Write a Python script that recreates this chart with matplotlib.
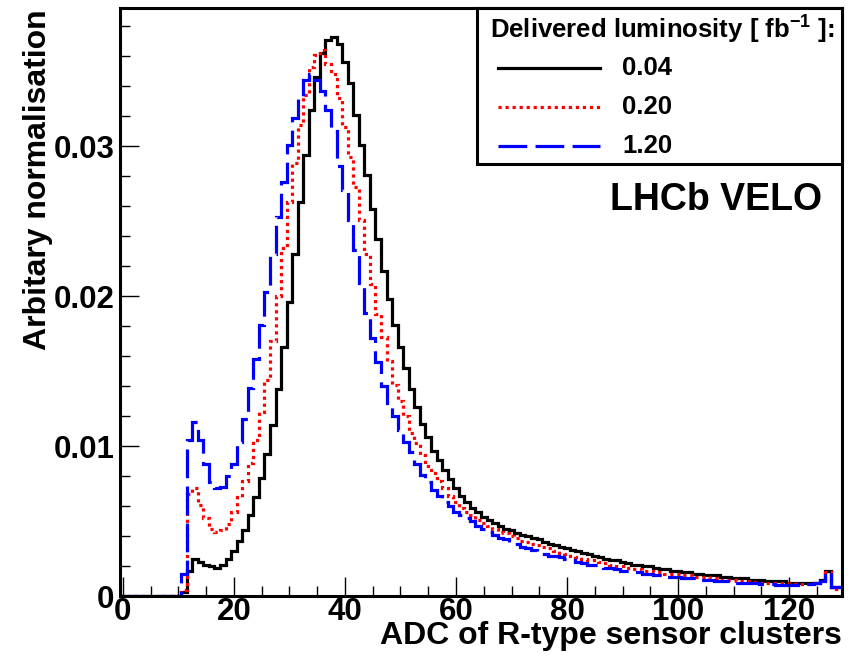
import numpy as np
import matplotlib
matplotlib.use("Agg")
import matplotlib.pyplot as plt
from matplotlib.lines import Line2D
from matplotlib.patches import Rectangle

plt.rcParams['font.family'] = ['Liberation Sans', 'DejaVu Sans']
plt.rcParams['font.weight'] = 'bold'
plt.rcParams['mathtext.fontset'] = 'custom'
plt.rcParams['mathtext.rm'] = 'Liberation Sans:bold'
plt.rcParams['mathtext.default'] = 'rm'

# ADC bins, one per integer value 0..129
adc_edges = np.arange(-0.5, 130.0, 1.0)

# 0.04 fb-1
lumi_004 = [
    0, 0, 0, 0, 0, 0, 0, 0, 0, 0, 0,
    0.0003, 0.0017, 0.0025, 0.0023, 0.0021, 0.0020, 0.0019, 0.0021, 0.0025, 0.0030,
    0.0037, 0.0044, 0.0054, 0.0066, 0.0079, 0.0095, 0.0114, 0.0138, 0.0166, 0.0196,
    0.0228, 0.0263, 0.0294, 0.0324, 0.0346, 0.0362, 0.0371, 0.0373, 0.0368, 0.0356,
    0.0342, 0.0321, 0.0301, 0.0281, 0.0258, 0.0238, 0.0217, 0.0198, 0.0181, 0.0166,
    0.0152, 0.0138, 0.0126, 0.0115, 0.0106, 0.0097, 0.0091, 0.0084, 0.0078, 0.0072,
    0.0067, 0.0063, 0.0059, 0.0056, 0.0053, 0.0051, 0.0049, 0.0047, 0.0045, 0.0044,
    0.0042, 0.0041, 0.0040, 0.0039, 0.0038, 0.0036, 0.0035, 0.0034, 0.0033, 0.0032,
    0.0031, 0.0030, 0.0029, 0.0028, 0.0027, 0.0026, 0.0025, 0.0024, 0.0024, 0.0023,
    0.0022, 0.0021, 0.0021, 0.0020, 0.0020, 0.0019, 0.0018, 0.0018, 0.0017, 0.0017,
    0.0016, 0.0016, 0.0015, 0.0015, 0.0014, 0.0014, 0.0014, 0.0013, 0.0013, 0.0012,
    0.0012, 0.0012, 0.0011, 0.0011, 0.0011, 0.0010, 0.0010, 0.0010, 0.0010, 0.0009,
    0.0009, 0.0009, 0.0009, 0.0009, 0.0009, 0.0011, 0.0017, 0.0006, 0.0006,
]

# 0.20 fb-1
lumi_020 = [
    0, 0, 0, 0, 0, 0, 0, 0, 0, 0, 0,
    0.0004, 0.0068, 0.0072, 0.0061, 0.0052, 0.0045, 0.0043, 0.0044, 0.0048, 0.0056,
    0.0066, 0.0077, 0.0089, 0.0104, 0.0123, 0.0144, 0.0170, 0.0200, 0.0232, 0.0263,
    0.0289, 0.0314, 0.0334, 0.0353, 0.0361, 0.0364, 0.0355, 0.0348, 0.0332, 0.0313,
    0.0293, 0.0273, 0.0251, 0.0228, 0.0208, 0.0188, 0.0173, 0.0157, 0.0141, 0.0130,
    0.0120, 0.0109, 0.0102, 0.0094, 0.0087, 0.0082, 0.0077, 0.0072, 0.0067, 0.0063,
    0.0059, 0.0056, 0.0054, 0.0051, 0.0049, 0.0047, 0.0045, 0.0043, 0.0042, 0.0040,
    0.0039, 0.0037, 0.0036, 0.0035, 0.0034, 0.0033, 0.0032, 0.0030, 0.0029, 0.0028,
    0.0027, 0.0026, 0.0025, 0.0024, 0.0024, 0.0023, 0.0022, 0.0021, 0.0020, 0.0020,
    0.0019, 0.0018, 0.0018, 0.0017, 0.0017, 0.0016, 0.0016, 0.0015, 0.0015, 0.0015,
    0.0014, 0.0014, 0.0013, 0.0013, 0.0013, 0.0012, 0.0012, 0.0011, 0.0011, 0.0011,
    0.0010, 0.0010, 0.0010, 0.00095, 0.0009, 0.0009, 0.0009, 0.00085, 0.00085, 0.00085,
    0.0008, 0.0008, 0.0008, 0.0008, 0.0009, 0.0010, 0.0016, 0.0006, 0.0005,
]

# 1.20 fb-1
lumi_120 = [
    0, 0, 0, 0, 0, 0, 0, 0, 0, 0, 0,
    0.0015, 0.0104, 0.0116, 0.0104, 0.0088, 0.0076, 0.0072, 0.0073, 0.0080, 0.0088,
    0.0103, 0.0118, 0.0139, 0.0158, 0.0181, 0.0203, 0.0228, 0.0253, 0.0276, 0.0301,
    0.0319, 0.0332, 0.0344, 0.0348, 0.0344, 0.0337, 0.0324, 0.0310, 0.0287, 0.0271,
    0.0251, 0.0231, 0.0209, 0.0189, 0.0172, 0.0156, 0.0140, 0.0129, 0.0120, 0.0111,
    0.0103, 0.0096, 0.0088, 0.0081, 0.0076, 0.0071, 0.0067, 0.0063, 0.0060, 0.0056,
    0.0054, 0.0052, 0.0050, 0.0047, 0.0045, 0.0043, 0.0041, 0.0039, 0.0038, 0.0036,
    0.0035, 0.0033, 0.0032, 0.0031, 0.0029, 0.0028, 0.0027, 0.0027, 0.0026, 0.0025,
    0.0024, 0.0023, 0.0022, 0.0021, 0.0021, 0.0020, 0.0019, 0.0019, 0.0018, 0.0017,
    0.0017, 0.0016, 0.0016, 0.0015, 0.0015, 0.0014, 0.0014, 0.0013, 0.0013, 0.0013,
    0.0012, 0.0012, 0.0012, 0.0011, 0.0011, 0.0011, 0.0010, 0.0010, 0.0010, 0.0009,
    0.0009, 0.0009, 0.00087, 0.00085, 0.0008, 0.0008, 0.00078, 0.00075, 0.00075, 0.00075,
    0.00075, 0.00078, 0.0008, 0.0008, 0.00085, 0.0010, 0.0016, 0.0006, 0.0006,
]

labels = ["0.04", "0.20", "1.20"]
x_ticks = [0, 20, 40, 60, 80, 100, 120]
y_ticks = [0, 0.01, 0.02, 0.03]
y_tick_labels = ["0", "0.01", "0.02", "0.03"]

styles = [
    dict(color="black", linestyle="-", linewidth=2.3),
    dict(color="#ff0000", linestyle=(0, (1.0, 1.2)), linewidth=2.3),
    dict(color="#0000ff", linestyle=(0, (9.0, 2.6)), linewidth=2.3),
]

fig = plt.figure(figsize=(8.5, 6.64), dpi=100)
ax = fig.add_axes([120 / 850, 68 / 664, 722 / 850, 588 / 664])

for vals, st in zip([lumi_004, lumi_020, lumi_120], styles):
    ax.stairs(vals, adc_edges, baseline=None, **st)

ax.set_xlim(-0.5, 129.5)
ax.set_ylim(0, 0.0392)

ax.set_xticks(x_ticks)
ax.set_xticklabels([str(t) for t in x_ticks])
ax.set_xticks(np.arange(0, 130, 5), minor=True)
ax.set_yticks(y_ticks)
ax.set_yticklabels(y_tick_labels)
ax.set_yticks(np.arange(0, 0.039, 0.002), minor=True)

ax.tick_params(which='both', direction='in', top=False, right=False,
               labelsize=22.5, width=1.0)
ax.tick_params(which='major', length=14)
ax.tick_params(axis='x', which='major', pad=0.5)
ax.tick_params(axis='y', which='major', pad=4)
ax.tick_params(which='minor', length=7)
for sp in ax.spines.values():
    sp.set_linewidth(2.2)
    sp.set_zorder(5)

ax.text(1.0, -0.0815, "ADC of R-type sensor clusters", transform=ax.transAxes,
        ha='right', va='baseline', fontsize=23, fontweight='bold')
ax.text(-0.1136, 0.997, "Arbitary normalisation", transform=ax.transAxes,
        ha='center', va='top', rotation=90, fontsize=23, fontweight='bold')

ax.text(0.9723, 0.6735, "LHCb VELO", transform=ax.transAxes,
        ha='right', va='center', fontsize=27, fontweight='bold')

# legend box
ax.add_patch(Rectangle((0.4945, 0.7347), 0.5055, 0.2653, transform=ax.transAxes,
                       facecolor='white', edgecolor='black', linewidth=2.2,
                       zorder=6, clip_on=False))
ax.text(0.5125, 0.9626, "Delivered luminosity [ fb$^{-1}$ ]:", transform=ax.transAxes,
        ha='left', va='center', fontsize=18.5, fontweight='bold', zorder=7)
for row_y, lab, st in zip([0.898, 0.8316, 0.7653], labels, styles):
    ax.add_line(Line2D([0.5235, 0.6648], [row_y, row_y], transform=ax.transAxes,
                       zorder=7, clip_on=False, **st))
    ax.text(0.6953, row_y, lab, transform=ax.transAxes, ha='left', va='center',
            fontsize=18.5, fontweight='bold', zorder=7)

fig.savefig("out.png", dpi=100)
